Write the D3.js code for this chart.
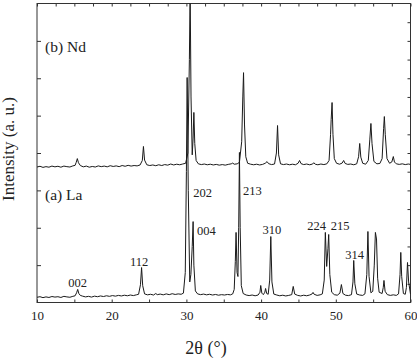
<!doctype html>
<html lang="en">
<head>
  <meta charset="utf-8">
  <title>XRD La / Nd</title>
  <style>
    body { margin:0; background:#fff; }
    svg text { font-family:"Liberation Serif","Times New Roman",serif; fill:#222; }
    .tick text { font-size:13px; }
    .tick line { stroke:#333; }
    .trace { fill:none; stroke:#1a1a1a; stroke-width:1; stroke-linejoin:round; }
  </style>
</head>
<body>
<div id="chart"></div>

<script src="https://cdn.jsdelivr.net/npm/d3@7"></script>
<script>
// 2theta (deg), intensity (a.u.)
var laTrace = [
  [10.0,28],[10.4,31],[10.8,26],[11.2,30],[11.6,27],[12.0,32],[12.4,29],[12.8,31],[13.2,27],[13.6,33],
  [14.0,30],[14.4,28],[14.8,33],[15.1,36],[15.3,52],[15.45,70],[15.6,48],[15.8,38],[16.1,34],[16.5,30],
  [16.9,33],[17.3,29],[17.7,34],[18.1,31],[18.5,35],[18.9,32],[19.3,36],[19.7,33],[20.1,37],[20.5,34],
  [20.9,38],[21.3,35],[21.7,39],[22.1,36],[22.5,40],[22.9,37],[23.3,41],[23.6,44],[23.85,95],[24.0,187],
  [24.15,90],[24.4,46],[24.8,41],[25.2,44],[25.6,40],[25.9,48],[26.1,42],[26.5,45],[26.9,41],[27.3,46],
  [27.7,42],[28.1,47],[28.5,43],[28.9,46],[29.3,44],[29.6,50],[29.85,160],[30.0,700],[30.1,1204],[30.25,600],
  [30.45,110],[30.6,150],[30.78,300],[30.9,433],[31.0,200],[31.2,62],[31.5,46],[31.9,42],[32.3,45],[32.7,41],
  [33.1,44],[33.5,40],[33.9,43],[34.3,39],[34.7,42],[35.1,40],[35.5,43],[35.9,41],[36.2,46],[36.4,70],
  [36.55,220],[36.65,375],[36.78,160],[36.9,139],[37.0,400],[37.1,803],[37.2,400],[37.35,90],[37.6,48],[38.0,40],
  [38.4,37],[38.8,40],[39.2,36],[39.6,40],[39.85,55],[39.95,91],[40.1,50],[40.3,42],[40.5,55],[40.6,75],
  [40.75,48],[40.95,44],[41.15,120],[41.3,353],[41.45,110],[41.7,45],[42.1,40],[42.5,36],[42.9,39],[43.3,35],
  [43.7,38],[44.1,42],[44.3,86],[44.5,45],[44.9,38],[45.3,35],[45.7,39],[46.1,36],[46.5,40],[46.8,45],
  [46.95,54],[47.1,44],[47.5,38],[47.9,41],[48.2,46],[48.45,120],[48.6,375],[48.78,193],[48.95,290],[49.05,364],
  [49.2,150],[49.45,55],[49.8,42],[50.2,39],[50.55,50],[50.75,96],[50.95,48],[51.3,39],[51.7,37],[52.1,42],
  [52.3,110],[52.4,225],[52.55,100],[52.8,45],[53.2,40],[53.6,38],[53.9,46],[54.15,150],[54.3,380],[54.45,140],
  [54.7,52],[54.95,60],[55.15,200],[55.3,375],[55.45,340],[55.6,130],[55.8,55],[56.2,48],[56.35,80],[56.45,118],
  [56.6,60],[56.9,42],[57.3,38],[57.7,41],[58.1,38],[58.4,46],[58.6,150],[58.7,268],[58.82,140],[59.05,48],
  [59.3,44],[59.45,80],[59.6,214],[59.75,110],[60.0,45]
];

var ndTrace = [
  [10.0,725],[10.4,729],[10.8,723],[11.2,727],[11.6,724],[12.0,730],[12.4,726],[12.8,729],[13.2,724],[13.6,730],
  [14.0,727],[14.4,725],[14.8,731],[15.1,734],[15.25,750],[15.4,770],[15.55,748],[15.8,733],[16.2,726],[16.6,730],
  [17.0,724],[17.4,728],[17.8,725],[18.2,731],[18.6,727],[19.0,730],[19.4,726],[19.8,732],[20.2,728],[20.6,731],
  [21.0,727],[21.4,733],[21.8,729],[22.2,734],[22.6,730],[23.0,733],[23.4,731],[23.8,736],[24.1,760],[24.25,835],
  [24.4,762],[24.7,737],[25.1,733],[25.5,736],[25.9,732],[26.3,737],[26.7,733],[27.1,738],[27.5,735],[27.9,741],
  [28.3,736],[28.7,740],[29.1,737],[29.5,741],[29.9,745],[30.2,800],[30.4,1300],[30.5,1680],[30.62,1100],[30.78,790],
  [30.9,880],[31.0,1017],[31.12,850],[31.3,760],[31.6,742],[32.0,738],[32.4,741],[32.8,737],[33.2,740],[33.6,736],
  [34.0,739],[34.4,735],[34.8,738],[35.2,735],[35.6,739],[36.0,742],[36.2,746],[36.4,740],[36.8,742],[37.1,750],
  [37.4,860],[37.55,1100],[37.65,1230],[37.78,950],[37.95,780],[38.2,745],[38.6,740],[39.0,737],[39.4,740],[39.8,736],
  [40.2,739],[40.55,745],[40.8,754],[41.0,743],[41.4,738],[41.8,741],[42.05,800],[42.2,947],[42.35,790],[42.6,742],
  [43.0,738],[43.4,741],[43.8,737],[44.2,740],[44.6,737],[44.95,745],[45.15,760],[45.35,743],[45.7,738],[46.1,741],
  [46.5,737],[46.9,741],[47.05,748],[47.25,740],[47.6,737],[48.0,741],[48.4,738],[48.8,742],[49.1,760],[49.3,900],
  [49.38,979],[49.5,1070],[49.62,900],[49.8,770],[50.1,745],[50.5,740],[50.85,746],[51.05,760],[51.25,744],[51.6,739],
  [52.0,741],[52.4,737],[52.8,742],[53.05,780],[53.2,851],[53.35,778],[53.6,745],[54.0,740],[54.35,760],[54.55,870],
  [54.7,958],[54.85,850],[55.1,755],[55.5,742],[55.9,744],[56.2,770],[56.4,930],[56.5,995],[56.62,900],[56.85,770],
  [57.2,745],[57.5,752],[57.7,781],[57.85,752],[58.1,742],[58.5,739],[58.9,742],[59.3,738],[59.7,741],[60.0,739]
];

// hkl labels for the La pattern: peak position and label baseline level
var hklNames = ["002","112","202","004","213","310","224","215","314"];
var hklPos   = [15.45, 24.0, 30.1, 30.9, 37.1, 41.3, 48.6, 49.05, 52.4];
var hklLevel = [83, 197, 567, 361, 575, 365, 388, 388, 231];

var xTicks = [10, 20, 30, 40, 50, 60];
var sampleNames = ["(a) La", "(b) Nd"];
var sampleLevel = [548, 1340];

var W = 417, H = 362;
var m = {top:3.5, right:6.5, bottom:59.5, left:37};

var svg = d3.select("#chart").append("svg")
    .attr("width", W).attr("height", H);

var x = d3.scaleLinear().domain([10, 60]).range([m.left, W - m.right]);
var y = d3.scaleLinear().domain([0, 1600]).range([H - m.bottom, m.top]);

svg.append("clipPath").attr("id","plotclip")
  .append("rect")
    .attr("x", m.left).attr("y", m.top)
    .attr("width", W - m.left - m.right).attr("height", H - m.top - m.bottom);

// axes, ticks pointing inward
svg.append("g")
    .attr("transform", "translate(0," + (H - m.bottom) + ")")
    .call(d3.axisBottom(x).tickValues(d3.range(10, 61, 5)).tickSize(-3).tickPadding(8)
      .tickFormat(function(d){ return xTicks.indexOf(d) >= 0 ? d : ""; }))
    .call(function(g){ g.select(".domain").remove(); });

svg.append("g")
    .attr("transform", "translate(0," + m.top + ")")
    .call(d3.axisTop(x).tickValues(d3.range(10, 60.1, 2.5)).tickSize(-3).tickFormat(""))
    .call(function(g){ g.select(".domain").remove(); });

svg.append("g")
    .attr("transform", "translate(" + m.left + ",0)")
    .call(d3.axisLeft(y).tickValues(d3.range(200, 1600, 200)).tickSize(-4).tickFormat(""))
    .call(function(g){ g.select(".domain").remove(); });

svg.append("g")
    .attr("transform", "translate(" + (W - m.right) + ",0)")
    .call(d3.axisRight(y).tickValues(d3.range(100, 1600, 100)).tickSize(-3).tickFormat(""))
    .call(function(g){ g.select(".domain").remove(); });

svg.append("rect")
    .attr("x", m.left).attr("y", m.top)
    .attr("width", W - m.left - m.right).attr("height", H - m.top - m.bottom)
    .attr("fill", "none").attr("stroke", "#333").attr("stroke-width", 1);

var line = d3.line()
    .x(function(d){ return x(d[0]); })
    .y(function(d){ return y(d[1]); });

var plot = svg.append("g").attr("clip-path", "url(#plotclip)");
plot.append("path").datum(ndTrace).attr("class", "trace").attr("d", line);
plot.append("path").datum(laTrace).attr("class", "trace").attr("d", line);

// hkl labels, nudged beside their peaks
var lblDx = [0, -2.5, 6, 4, 3.6, 1, 0.6, 2, 1];
var lblAnchor = ["middle","middle","start","start","start","middle","end","start","middle"];
svg.selectAll(".hkl")
    .data(hklNames)
  .enter().append("text")
    .attr("class", "hkl")
    .attr("x", function(d, i){ return x(hklPos[i]) + lblDx[i]; })
    .attr("y", function(d, i){ return y(hklLevel[i]); })
    .attr("text-anchor", function(d, i){ return lblAnchor[i]; })
    .attr("font-size", "12.5px")
    .text(function(d){ return d; });

svg.selectAll(".sample")
    .data(sampleNames)
  .enter().append("text")
    .attr("class", "sample")
    .attr("x", 45)
    .attr("y", function(d, i){ return y(sampleLevel[i]); })
    .attr("font-size", "15.5px")
    .text(function(d){ return d; });

// axis titles
svg.append("text")
    .attr("x", 206).attr("y", 354)
    .attr("text-anchor", "middle")
    .attr("font-size", "18px")
    .text("2\u03b8 (\u00b0)");

svg.append("text")
    .attr("transform", "translate(14,149) rotate(-90)")
    .attr("text-anchor", "middle")
    .attr("font-size", "17px")
    .text("Intensity (a. u.)");
</script>
</body>
</html>
